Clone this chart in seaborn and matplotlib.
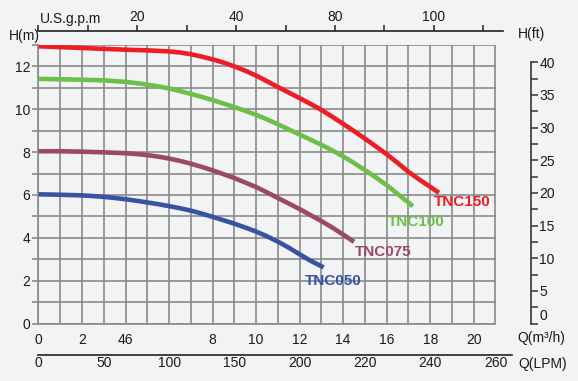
import matplotlib
matplotlib.use("Agg")
import matplotlib.pyplot as plt
import seaborn as sns
import pandas as pd
from matplotlib.ticker import FixedLocator, FixedFormatter

# ---------------- data ----------------
q150 = [0, 1, 2, 3, 4, 5, 6, 6.5, 7, 7.5, 8, 8.5, 9, 9.5, 10, 10.5, 11, 11.5, 12, 12.5,
        13, 13.5, 14, 14.5, 15, 15.5, 16, 16.5, 17, 17.5, 18, 18.4]
h150 = [12.94, 12.9, 12.86, 12.82, 12.78, 12.75, 12.7, 12.65, 12.57, 12.46, 12.33, 12.18,
        12.0, 11.8, 11.57, 11.31, 11.04, 10.78, 10.52, 10.25, 9.97, 9.65, 9.32, 8.98,
        8.63, 8.27, 7.9, 7.5, 7.08, 6.72, 6.38, 6.1]

q100 = [0, 1, 2, 3, 4, 4.5, 5, 5.5, 6, 6.5, 7, 7.5, 8, 8.5, 9, 9.5, 10, 10.5, 11, 11.5,
        12, 12.5, 13, 13.5, 14, 14.5, 15, 15.5, 16, 16.5, 17, 17.2]
h100 = [11.42, 11.4, 11.38, 11.35, 11.28, 11.22, 11.15, 11.07, 10.97, 10.85, 10.72, 10.58,
        10.43, 10.27, 10.1, 9.93, 9.74, 9.53, 9.3, 9.06, 8.82, 8.58, 8.34, 8.08, 7.8,
        7.49, 7.16, 6.82, 6.46, 6.05, 5.65, 5.47]

q075 = [0, 1, 2, 3, 4, 4.5, 5, 5.5, 6, 6.5, 7, 7.5, 8, 8.5, 9, 9.5, 10, 10.5, 11, 11.5,
        12, 12.5, 13, 13.5, 14, 14.5]
h075 = [8.04, 8.04, 8.02, 7.99, 7.95, 7.91, 7.86, 7.79, 7.7, 7.59, 7.46, 7.31, 7.15, 6.97,
        6.79, 6.58, 6.37, 6.12, 5.86, 5.6, 5.34, 5.06, 4.78, 4.48, 4.15, 3.81]

q050 = [0, 1, 2, 2.5, 3, 3.5, 4, 4.5, 5, 5.5, 6, 6.5, 7, 7.5, 8, 8.5, 9, 9.5, 10, 10.5,
        11, 11.5, 12, 12.5, 13.1]
h050 = [6.03, 6.01, 5.98, 5.95, 5.91, 5.86, 5.8, 5.73, 5.65, 5.57, 5.48, 5.38, 5.27, 5.13,
        4.98, 4.82, 4.66, 4.48, 4.29, 4.07, 3.82, 3.54, 3.23, 2.93, 2.62]

models = ["TNC150", "TNC100", "TNC075", "TNC050"]
colors = ["#ee1c25", "#6cc04a", "#9b4a5f", "#3953a4"]
label_q = [19.45, 17.38, 15.86, 13.56]
label_h = [5.65, 4.72, 3.32, 2.0]

q_ticks = list(range(0, 22))
q_labels = ["0", "", "2", "", "46", "", "", "", "8", "", "10", "", "12", "", "14", "", "16", "", "18", "", "20", ""]
h_ticks = list(range(0, 14))
h_labels = ["0", "", "2", "", "4", "", "6", "", "8", "", "10", "", "12", ""]
ft_major = [0, 5, 10, 15, 20, 25, 30, 35, 40]
ft_labels = ["0", "5", "10", "15", "20", "25", "30", "35", "40"]
gpm_ticks = [0, 10, 20, 30, 40, 50, 60, 70, 80, 90]
gpm_labels = ["", "", "20", "", "40", "", "80", "", "100", ""]
lpm_ticks = [0, 25, 50, 75, 100, 125, 150, 175, 200, 225, 250, 275, 300, 325, 350]
lpm_labels = ["0", "", "50", "", "100", "", "150", "", "200", "", "220", "", "240", "", "260"]

frames = []
for m, q, h in zip(models, [q150, q100, q075, q050], [h150, h100, h075, h050]):
    frames.append(pd.DataFrame({"Q": q, "H": h, "model": m}))
df = pd.concat(frames, ignore_index=True)

# ---------------- style ----------------
sns.set_theme(style="white")
plt.rcParams["font.family"] = ["Liberation Sans", "DejaVu Sans"]
BG = "#f2f3f5"
GRID = "#8a8a8a"
TXT = "#1a1a1a"
FS = 10

W, H = 578, 381
fig = plt.figure(figsize=(W / 100, H / 100), dpi=100, facecolor=BG)

def rect(l, t, r, b):
    return [l / W, 1 - b / H, (r - l) / W, (b - t) / H]

L, R, T, B = 38.5, 495.5, 45, 323.5
ax = fig.add_axes(rect(L, T, R, B))
ax.set_facecolor(BG)

sns.lineplot(data=df, x="Q", y="H", hue="model", hue_order=models,
             palette=colors, linewidth=3.3, ax=ax, legend=False, sort=False,
             estimator=None, solid_capstyle="butt", solid_joinstyle="round", zorder=3)

ax.set_xlim(0, 21)
ax.set_ylim(0, 13)
ax.set_xlabel("")
ax.set_ylabel("")
ax.xaxis.set_major_locator(FixedLocator(q_ticks))
ax.xaxis.set_major_formatter(FixedFormatter(q_labels))
ax.yaxis.set_major_locator(FixedLocator(h_ticks))
ax.yaxis.set_major_formatter(FixedFormatter(h_labels))
ax.grid(True, color=GRID, linewidth=1.2)
ax.set_axisbelow(True)
for s in ax.spines.values():
    s.set_color(GRID)
    s.set_linewidth(1.2)
ax.spines["top"].set_visible(False)
ax.spines["right"].set_visible(False)
ax.tick_params(axis="both", which="major", direction="out", length=4, width=1.2,
               color=GRID, labelsize=FS, labelcolor=TXT, pad=2)
ax.tick_params(axis="x", pad=3)

for m, c, lq, lh in zip(models, colors, label_q, label_h):
    ax.text(lq, lh, m, color=c, fontsize=11, fontweight="bold",
            ha="center", va="center", zorder=4)

# right feet axis
axr = ax.twinx()
axr.set_ylim(0, 13 * 3.28084)
axr.patch.set_visible(False)
for k in ["top", "left", "bottom"]:
    axr.spines[k].set_visible(False)
axr.spines["right"].set_position(("outward", 25.5))
axr.spines["right"].set_bounds(0, 40)
axr.spines["right"].set_color("#333333")
axr.spines["right"].set_linewidth(1.2)
axr.yaxis.set_major_locator(FixedLocator(ft_major))
axr.yaxis.set_major_formatter(FixedFormatter(ft_labels))
axr.yaxis.set_minor_locator(FixedLocator([2.5 + 5 * i for i in range(8)]))
axr.tick_params(axis="y", which="both", direction="out", length=5, width=1.1,
                color="#333333", labelsize=FS, labelcolor=TXT, pad=1)
axr.grid(False)
for lbl in axr.get_yticklabels():
    if lbl.get_text() == "0":
        lbl.set_verticalalignment("bottom")

# top gpm axis
px_per_q = (R - L) / 21.0
px_per_gpm = px_per_q / 4.40287
top_right = 503
axt = fig.add_axes([L / W, 1 - 31 / H, (top_right - L) / W, 0.0001])
axt.patch.set_visible(False)
axt.set_xlim(0, (top_right - L) / px_per_gpm)
axt.set_yticks([])
for k in ["bottom", "left", "right"]:
    axt.spines[k].set_visible(False)
axt.spines["top"].set_color("#222222")
axt.spines["top"].set_linewidth(1.2)
axt.xaxis.tick_top()
axt.xaxis.set_major_locator(FixedLocator(gpm_ticks))
axt.xaxis.set_major_formatter(FixedFormatter(gpm_labels))
axt.tick_params(axis="x", direction="out", length=4, width=1.1, color="#222222",
                labelsize=FS, labelcolor=TXT, pad=1)
axt.grid(False)

# bottom LPM axis
px_per_lpm = px_per_q / 16.6667
lpm_right = 512
axb = fig.add_axes([L / W, 1 - 355 / H, (lpm_right - L) / W, 0.0001])
axb.patch.set_visible(False)
axb.set_xlim(0, (lpm_right - L) / px_per_lpm)
axb.set_yticks([])
for k in ["top", "left", "right"]:
    axb.spines[k].set_visible(False)
axb.spines["bottom"].set_color("#222222")
axb.spines["bottom"].set_linewidth(1.2)
axb.xaxis.set_major_locator(FixedLocator(lpm_ticks))
axb.xaxis.set_major_formatter(FixedFormatter(lpm_labels))
axb.tick_params(axis="x", direction="in", length=5, width=1.1, color="#222222",
                labelsize=FS, labelcolor=TXT, pad=1)
axb.grid(False)

def ftxt(x, y, s, **kw):
    fig.text(x / W, 1 - y / H, s, fontsize=FS, color=TXT, va="center", **kw)

ftxt(40, 19, "U.S.g.p.m", ha="left")
ftxt(24, 36, "H(m)", ha="center")
ftxt(518, 34, "H(ft)", ha="left")
ftxt(517, 338, "Q(m³/h)", ha="left")
ftxt(518, 364, "Q(LPM)", ha="left")

fig.savefig("out.png", dpi=100, facecolor=BG)
